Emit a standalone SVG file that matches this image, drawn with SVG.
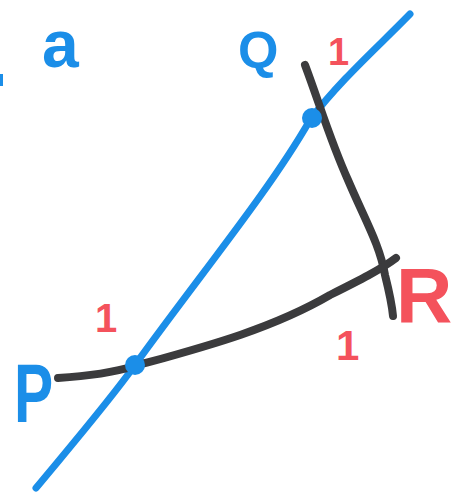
<svg xmlns="http://www.w3.org/2000/svg" width="460" height="498" viewBox="0 0 460 498">
<style>
.blue{fill:#1b8ee8}
.red{fill:#f4525c}
.lbl{font-family:"Liberation Sans",Arial,sans-serif;font-weight:bold}
.gray{stroke:#3b3b3d;stroke-width:8;fill:none;stroke-linecap:round}
.bl{stroke:#1b8ee8;stroke-width:7;fill:none;stroke-linecap:round}
</style>
<rect width="460" height="498" fill="#ffffff"/>
<g id="connectors">
<path class="bl" d="M 36 488 C 80 435 110 400 135 365 C 200 275 270 190 310 120 C 340 80 380 45 410 14"/>
<path class="gray" d="M 305 65 C 320 105 330 140 348 180 C 365 220 380 245 385 275 C 390 295 392 305 393 316"/>
<path class="gray" d="M 58 378 C 90 376 115 372 135 366 C 200 348 270 330 330 295 C 360 280 380 270 396 258"/>
</g>
<g id="node-Q-point"><circle class="blue" cx="312" cy="118" r="10"/></g>
<g id="node-P-point"><circle class="blue" cx="135" cy="365" r="10"/></g>
<g id="label-a"><text class="lbl blue" x="42" y="67" font-size="66">a</text></g>
<g id="label-left"><rect class="blue" x="0" y="74" width="3" height="12"/></g>
<g id="label-Q"><text class="lbl blue" x="238" y="68" font-size="52">Q</text></g>
<g id="label-P"><text class="lbl blue" x="0" y="0" font-size="84" transform="translate(14 422) scale(0.7 1)">P</text></g>
<g id="label-R"><text class="lbl red" x="396" y="322" font-size="78">R</text></g>
<g id="label-1q"><text class="lbl red" x="328" y="65" font-size="38">1</text></g>
<g id="label-1r"><text class="lbl red" x="336" y="360" font-size="42">1</text></g>
<g id="label-1p"><text class="lbl red" x="95" y="332" font-size="40">1</text></g>
</svg>
